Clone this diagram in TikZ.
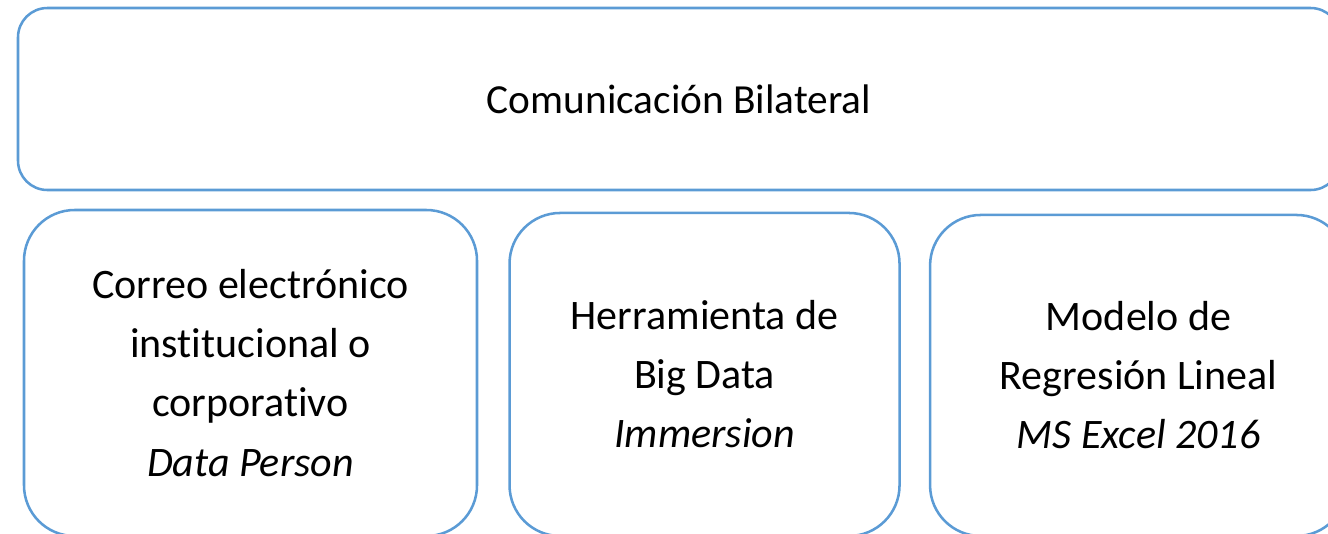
\documentclass[tikz,border=0pt]{standalone}
\usepackage{fontspec}
\setmainfont{Carlito}[Ligatures=NoCommon]
\usetikzlibrary{positioning}
\definecolor{officeblue}{HTML}{5B9BD5}
\tikzstyle{banner} = [rectangle,
                    rounded corners=22pt,
                    align = center,
                    draw=officeblue,
                    line width=1.9pt,
                    minimum width=991.5pt,
                    minimum height=136.5pt,
                    font=\fontsize{31}{37}\selectfont]
\tikzstyle{tool} = [rectangle,
                    rounded corners=38pt,
                    align = center,
                    draw=officeblue,
                    line width=1.9pt,
                    font=\fontsize{31.5}{44.3}\selectfont]
\tikzstyle{layout} = [x=0.75pt,
                      y=-0.75pt]

\begin{document}
\begin{tikzpicture}[layout]
    \useasboundingbox (0,0) rectangle (1328,533);
    \clip (0,0) rectangle (1328,533);
    \node (0) at (679,99) [banner] {Comunicación Bilateral};
    \node (1) at (250.5,373) [tool, minimum width=339.75pt, minimum height=244.5pt]
      {Correo electrónico\\ institucional o\\ corporativo\\ \textit{Data Person}};
    \node (2) [right=22.5pt of 1, yshift=-1.1pt] [tool, minimum width=292.5pt, minimum height=242.25pt]
      {Herramienta de\\ Big Data\\ \textit{Immersion}};
    \node (3) [right=21pt of 2, yshift=-0.75pt] [tool, minimum width=312.75pt, minimum height=240.75pt]
      {Modelo de\\ Regresión Lineal\\ \textit{MS Excel 2016}};
  \end{tikzpicture}
\end{document}
